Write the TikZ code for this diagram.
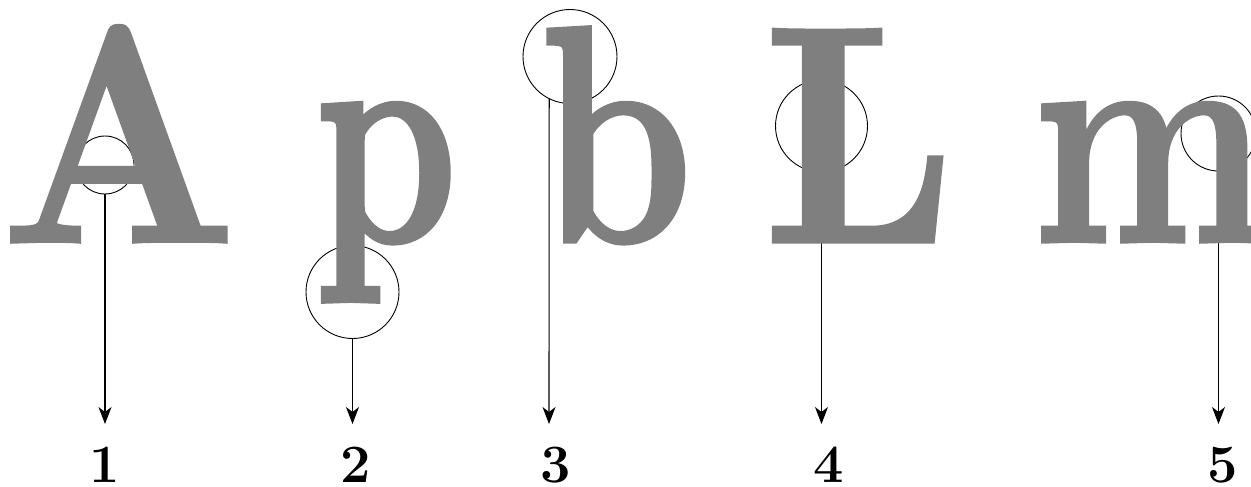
\documentclass[tikz,border=0pt]{standalone}
\usepackage{fontspec}
\usetikzlibrary{arrows.meta}
\newfontface\heavyface{lmroman10-bold.otf}[FakeBold=1.1]
\definecolor{glyphgray}{HTML}{7F7F7F}
\begin{document}
\begin{tikzpicture}[x=1pt,y=-1pt,
  glyph/.style={inner sep=0pt, outer sep=0pt, anchor=base, text=glyphgray,
    font=\heavyface\fontsize{310}{310}\selectfont},
  ring/.style={draw=black, line width=0.9pt, circle, inner sep=0pt},
  pointer/.style={draw=black, line width=1.1pt,
    -{Stealth[length=17pt, width=13pt, inset=5pt]}},
  numlabel/.style={inner sep=0pt, anchor=base,
    font=\fontsize{54}{54}\selectfont\bfseries}]
\useasboundingbox (0,0) rectangle (1251,487);
% circles (behind the letters)
\node[ring, minimum size=58pt] (c1) at (105,165) {};
\node[ring, minimum size=93pt] (c2) at (352.5,292) {};
\node[ring, minimum size=94pt] (c3) at (570,56.5) {};
\node[ring, minimum size=92pt] (c4) at (821.5,126) {};
\node[ring, minimum size=75pt] (c5) at (1218.5,133.5) {};
% number labels
\node[numlabel] (n1) at (104.5,482) {1};
\node[numlabel] (n2) at (356,482) {2};
\node[numlabel] (n3) at (555.5,482) {3};
\node[numlabel] (n4) at (829,482) {4};
\node[numlabel] (n5) at (1223,482) {5};
\coordinate (t1) at (105,424);
\coordinate (t2) at (352.5,424);
\coordinate (t3) at (549,424);
\coordinate (t4) at (821.5,424);
\coordinate (t5) at (1218.5,424);
% arrows
\draw[pointer] (c1.south) -- (t1);
\draw[pointer] (c2.south) -- (t2);
\draw[pointer] (c3.-116.6) -- (t3);
\draw[pointer] (c4.south) -- (t4);
\draw[pointer] (c5.south) -- (t5);
% letters on top
\node[glyph] (gA) at (119,242) {\scalebox{0.88}[1]{A}};
\node[glyph] (gp) at (386,242) {\scalebox{0.73}[1]{p}};
\node[glyph] (gb) at (616,242) {\scalebox{0.78}[1]{b}};
\node[glyph] (gL) at (859,242) {\scalebox{0.9}[1]{L}};
\node[glyph] (gm) at (1150,242) {\scalebox{0.8}[1]{m}};
\end{tikzpicture}
\end{document}
